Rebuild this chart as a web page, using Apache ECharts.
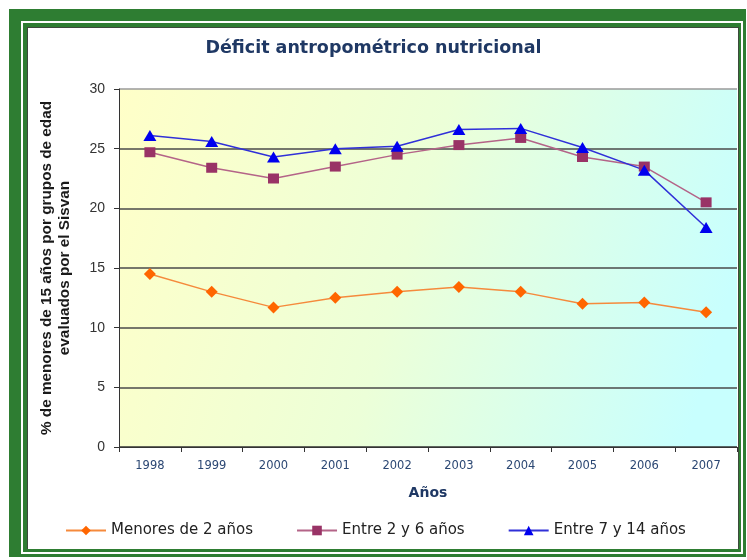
<!DOCTYPE html>
<html>
<head>
<meta charset="utf-8">
<script src="https://cdn.jsdelivr.net/npm/echarts@6/dist/echarts.min.js"></script>
<style>
  html, body { margin: 0; padding: 0; background: #ffffff; }
  body { width: 747px; height: 560px; position: relative; overflow: hidden; }
  .frame { position: absolute; box-sizing: border-box; }
  #outer { left: 9px; top: 9px; width: 737px; height: 548px; background: #2e7d32; }
  #gap { left: 21px; top: 21px; width: 722px; height: 533px; background: #ffffff; }
  #inner { left: 23px; top: 23px; width: 718px; height: 529px; background: #2e7d32; }
  #panel { left: 27px; top: 27px; width: 712px; height: 522px; background: #ffffff;
           border-top: 1px solid #3c4a3c; border-left: 1px solid #3c4a3c; border-right: 1px solid #3c4a3c; }
  #chart { position: absolute; left: 0; top: 0; width: 747px; height: 560px; }
</style>
</head>
<body>
<div class="frame" id="outer"></div>
<div class="frame" id="gap"></div>
<div class="frame" id="inner"></div>
<div class="frame" id="panel"></div>
<div id="chart"></div>
<script>
// Años evaluados
const years = ['1998', '1999', '2000', '2001', '2002', '2003', '2004', '2005', '2006', '2007'];

// % de menores con déficit, por grupo de edad
const menores2 = [14.5, 13.0, 11.7, 12.5, 13.0, 13.4, 13.0, 12.0, 12.1, 11.3];
const entre2y6 = [24.7, 23.4, 22.5, 23.5, 24.5, 25.3, 25.9, 24.3, 23.5, 20.5];
const entre7y14 = [26.1, 25.6, 24.3, 25.0, 25.2, 26.6, 26.7, 25.1, 23.2, 18.4];

const seriesNames = ['Menores de 2 años', 'Entre 2 y 6 años', 'Entre 7 y 14 años'];

const chart = echarts.init(document.getElementById('chart'), null, { renderer: 'canvas' });

const wideFont = '"DejaVu Sans", Verdana, sans-serif';
const plainFont = '"Liberation Sans", Arial, sans-serif';

chart.setOption({
  backgroundColor: 'transparent',
  animation: false,
  title: {
    text: 'Déficit antropométrico nutricional',
    left: 'center',
    top: 34,
    textStyle: { fontFamily: wideFont, fontSize: 17.5, fontWeight: 'bold', color: '#1f3864' }
  },
  legend: {
    data: seriesNames,
    left: 60,
    top: 518,
    itemWidth: 40,
    itemHeight: 12,
    itemGap: 43,
    textStyle: { fontFamily: wideFont, fontSize: 15, color: '#222222' }
  },
  grid: {
    left: 119, right: 10, top: 89, bottom: 113,
    show: true,
    borderWidth: 0,
    backgroundColor: new echarts.graphic.LinearGradient(0, 0, 1, 0.5, [
      { offset: 0, color: '#ffffc8' },
      { offset: 0.5, color: '#ecffd8' },
      { offset: 1, color: '#c8fffe' }
    ])
  },
  xAxis: {
    type: 'category',
    data: years,
    boundaryGap: true,
    name: 'Años',
    nameLocation: 'middle',
    nameGap: 39,
    nameTextStyle: { fontFamily: wideFont, fontSize: 14, fontWeight: 'bold', color: '#1f3864' },
    axisLine: { lineStyle: { color: '#333333', width: 1 } },
    axisTick: { show: true, inside: false, length: 5, lineStyle: { color: '#333333' } },
    axisLabel: { margin: 13, fontFamily: wideFont, fontSize: 11.5, color: '#2b4773' },
    splitLine: { show: false }
  },
  yAxis: {
    type: 'value',
    min: 0, max: 30, interval: 5,
    name: '% de menores de 15 años por grupos de edad\nevaluados por el Sisvan',
    nameLocation: 'middle',
    nameRotate: 90,
    nameGap: 45,
    nameTextStyle: { fontFamily: plainFont, fontSize: 15.3, fontWeight: 'bold', color: '#1a1a1a', lineHeight: 18 },
    axisLine: { show: true, lineStyle: { color: '#333333', width: 1 } },
    axisTick: { show: true, inside: false, length: 5, lineStyle: { color: '#333333' } },
    axisLabel: { margin: 14, fontFamily: plainFont, fontSize: 14, color: '#333333' },
    splitLine: {
      show: true,
      lineStyle: { color: ['#333333', '#4a4a4a', '#4a4a4a', '#4a4a4a', '#4a4a4a', '#4a4a4a', '#9a9a9a'], width: 1.5 }
    }
  },
  series: [
    {
      name: seriesNames[0],
      type: 'line',
      data: menores2,
      symbol: 'diamond',
      symbolSize: [12, 12],
      itemStyle: { color: '#ff6600' },
      lineStyle: { color: '#f58a3c', width: 1.5 }
    },
    {
      name: seriesNames[1],
      type: 'line',
      data: entre2y6,
      symbol: 'rect',
      symbolSize: [11, 10],
      itemStyle: { color: '#993366' },
      lineStyle: { color: '#b46488', width: 1.5 }
    },
    {
      name: seriesNames[2],
      type: 'line',
      data: entre7y14,
      symbol: 'triangle',
      symbolSize: [13, 11],
      itemStyle: { color: '#0000ee' },
      lineStyle: { color: '#3030d8', width: 1.5 }
    }
  ]
});
</script>
</body>
</html>
